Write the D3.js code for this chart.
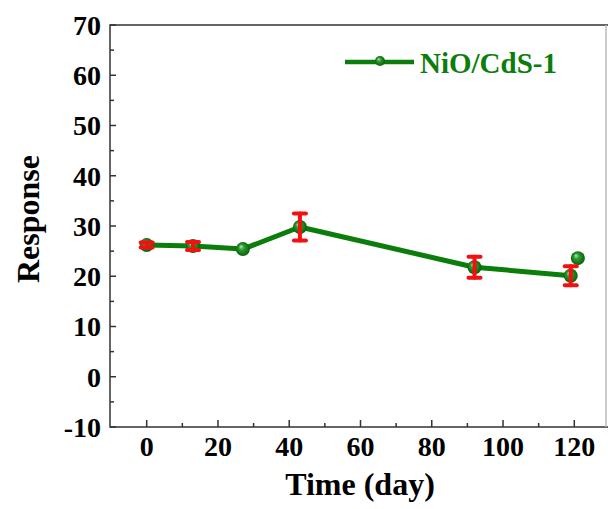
<!DOCTYPE html>
<html>
<head>
<meta charset="utf-8">
<script src="https://cdn.jsdelivr.net/npm/d3@7"></script>
<style>
  body { margin: 0; background: #fff; }
  svg { display: block; font-family: "Liberation Serif", "Times New Roman", serif; font-weight: bold; }
</style>
</head>
<body>
<div id="chart"></div>
<script>
// data
const days = [0, 13, 27, 43, 92, 119];
const response = [26.2, 26.0, 25.4, 29.8, 21.8, 20.1];
const errors = [0.5, 0.8, 0, 2.7, 2.1, 1.9];
// lone point at the end, not joined to the line
const extraDay = [121];
const extraResponse = [23.6];

const xTicks = [0, 20, 40, 60, 80, 100, 120];
const yTicks = [-10, 0, 10, 20, 30, 40, 50, 60, 70];
const seriesName = "NiO/CdS-1";

const width = 608, height = 509;
const green = "#0b7d0b";
const red = "#f21010";

const svg = d3.select("#chart")
  .append("svg")
  .attr("width", width)
  .attr("height", height);

// sphere look for the markers
const grad = svg.append("defs").append("radialGradient")
  .attr("id", "ball")
  .attr("cx", "50%").attr("cy", "50%").attr("r", "55%")
  .attr("fx", "35%").attr("fy", "30%");
grad.append("stop").attr("offset", "0%").attr("stop-color", "#b8e8b8");
grad.append("stop").attr("offset", "35%").attr("stop-color", "#2f9a2f");
grad.append("stop").attr("offset", "100%").attr("stop-color", "#055a05");

const x = d3.scaleLinear().domain([-10.3, 128.9]).range([110, 606]);
const y = d3.scaleLinear().domain([-10, 70]).range([427, 25]);

// frame (right side is faint in the original)
const axisColor = "#333";
const frame = svg.append("g").attr("fill", "none").attr("stroke-width", 1.5);
frame.append("path")
  .attr("stroke", axisColor)
  .attr("d", `M${x.range()[1] + 2},${y.range()[1]}H${x.range()[0]}V${y.range()[0]}H${width}`);
frame.append("line")
  .attr("stroke", "#bbb")
  .attr("x1", x.range()[1]).attr("x2", x.range()[1])
  .attr("y1", y.range()[1]).attr("y2", y.range()[0]);

// x axis ticks, pointing in
const xMinor = d3.range(10, 130, 20);
const xAxis = svg.append("g").attr("stroke", axisColor).attr("stroke-width", 1.5);
xAxis.selectAll("line.major").data(xTicks).join("line")
  .attr("class", "major")
  .attr("x1", d => x(d)).attr("x2", d => x(d))
  .attr("y1", y(-10)).attr("y2", y(-10) - 7);
xAxis.selectAll("line.minor").data(xMinor).join("line")
  .attr("class", "minor")
  .attr("x1", d => x(d)).attr("x2", d => x(d))
  .attr("y1", y(-10)).attr("y2", y(-10) - 4);

svg.append("g").selectAll("text").data(xTicks).join("text")
  .attr("x", d => x(d))
  .attr("y", 456)
  .attr("text-anchor", "middle")
  .style("font-size", "28px")
  .text(d => d);

// y axis ticks, pointing in
const yMinor = d3.range(-5, 70, 10);
const yAxis = svg.append("g").attr("stroke", axisColor).attr("stroke-width", 1.5);
yAxis.selectAll("line.major").data(yTicks).join("line")
  .attr("class", "major")
  .attr("x1", x.range()[0]).attr("x2", x.range()[0] + 6)
  .attr("y1", d => y(d)).attr("y2", d => y(d));
yAxis.selectAll("line.minor").data(yMinor).join("line")
  .attr("class", "minor")
  .attr("x1", x.range()[0]).attr("x2", x.range()[0] + 4)
  .attr("y1", d => y(d)).attr("y2", d => y(d));

svg.append("g").selectAll("text").data(yTicks).join("text")
  .attr("x", 101)
  .attr("y", d => y(d))
  .attr("dy", "0.35em")
  .attr("text-anchor", "end")
  .style("font-size", "28px")
  .text(d => d);

// axis titles
svg.append("text")
  .attr("x", 360)
  .attr("y", 495)
  .attr("text-anchor", "middle")
  .style("font-size", "32px")
  .text("Time (day)");

svg.append("text")
  .attr("transform", "translate(39,219) rotate(-90)")
  .attr("text-anchor", "middle")
  .style("font-size", "32px")
  .text("Response");

// series
const pts = days.map((d, i) => ({ day: d, val: response[i], err: errors[i] }));

svg.append("path")
  .datum(pts)
  .attr("fill", "none")
  .attr("stroke", green)
  .attr("stroke-width", 5)
  .attr("stroke-linejoin", "round")
  .attr("d", d3.line().x(d => x(d.day)).y(d => y(d.val)));

const extra = extraDay.map((d, i) => ({ day: d, val: extraResponse[i] }));

svg.append("g").selectAll("circle")
  .data(pts.concat(extra))
  .join("circle")
  .attr("cx", d => x(d.day))
  .attr("cy", d => y(d.val))
  .attr("r", 7)
  .attr("fill", "url(#ball)");

// error bars on top
const eb = svg.append("g")
  .attr("stroke", red)
  .attr("stroke-width", 4)
  .attr("stroke-linecap", "round")
  .selectAll("g")
  .data(pts.filter(d => d.err > 0))
  .join("g");
eb.append("line")
  .attr("x1", d => x(d.day)).attr("x2", d => x(d.day))
  .attr("y1", d => y(d.val + d.err)).attr("y2", d => y(d.val - d.err));
eb.append("line")
  .attr("x1", d => x(d.day) - 6).attr("x2", d => x(d.day) + 6)
  .attr("y1", d => y(d.val + d.err)).attr("y2", d => y(d.val + d.err));
eb.append("line")
  .attr("x1", d => x(d.day) - 6).attr("x2", d => x(d.day) + 6)
  .attr("y1", d => y(d.val - d.err)).attr("y2", d => y(d.val - d.err));

// legend
const lg = svg.append("g");
lg.append("line")
  .attr("x1", 345).attr("x2", 414)
  .attr("y1", 62).attr("y2", 62)
  .attr("stroke", green).attr("stroke-width", 4.5);
lg.append("circle")
  .attr("cx", 380).attr("cy", 61)
  .attr("r", 5)
  .attr("fill", "url(#ball)");
lg.append("text")
  .attr("x", 420).attr("y", 73)
  .attr("fill", green)
  .style("font-size", "29px")
  .text(seriesName);
</script>
</body>
</html>
